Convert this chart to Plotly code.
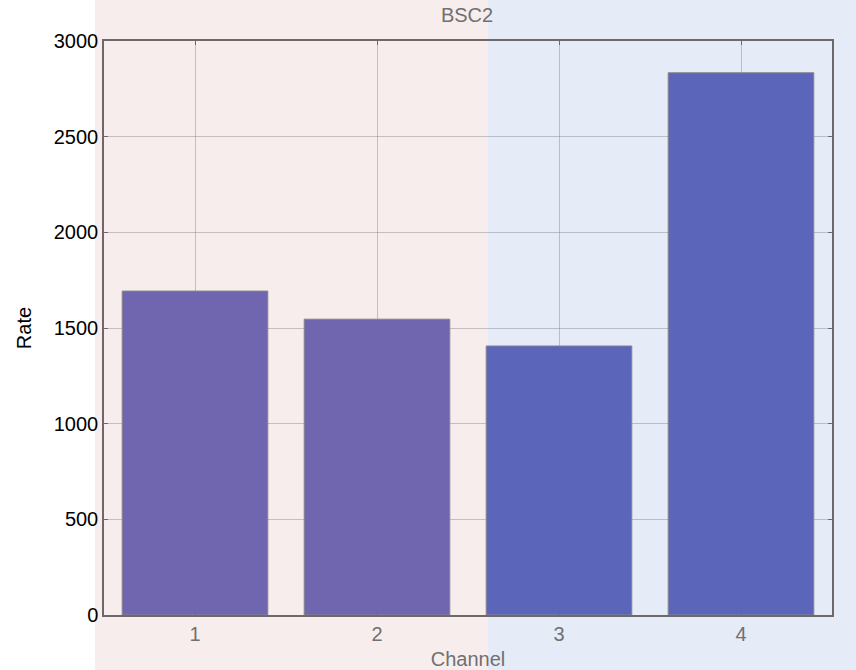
import plotly.graph_objects as go

channels = [1, 2, 3, 4]
rates = [1693, 1546, 1406, 2834]
bar_colors = ["#7066B0", "#7066B0", "#5B66BB", "#5B66BB"]
y_ticks = [0, 500, 1000, 1500, 2000, 2500, 3000]

W, H = 856, 670
ml, mr, mt, mb = 104, 24, 41, 55
pw, ph = W - ml - mr, H - mt - mb

def px_x(px):
    return (px - ml) / pw

def px_y(py):
    return (H - mb - py) / ph

fig = go.Figure()
fig.add_trace(go.Bar(
    x=channels, y=rates, width=0.8,
    marker=dict(color=bar_colors, line=dict(color="#85858a", width=1)),
))

fig.add_shape(type="rect", xref="paper", yref="paper", layer="below",
              x0=px_x(95), x1=px_x(488), y0=px_y(H), y1=px_y(0),
              fillcolor="#F7EDED", line=dict(width=0))
fig.add_shape(type="rect", xref="paper", yref="paper", layer="below",
              x0=px_x(488), x1=px_x(W), y0=px_y(H), y1=px_y(0),
              fillcolor="#E5EBF7", line=dict(width=0))

fig.update_layout(
    width=W, height=H,
    margin=dict(l=ml, r=mr, t=mt, b=mb, autoexpand=False),
    paper_bgcolor="white", plot_bgcolor="rgba(0,0,0,0)",
    font=dict(family="Liberation Sans, Arial", size=20),
    showlegend=False,
    title=dict(text="BSC2", x=467 / W, xanchor="center",
               y=1 - 15 / H, yanchor="middle",
               font=dict(size=20, color="#707070")),
    xaxis=dict(range=[0.5, 4.5], tickvals=channels, ticktext=[str(c) for c in channels],
               showgrid=True, gridcolor="rgba(120,120,130,0.4)", gridwidth=1,
               showline=True, linecolor="#6e6868", linewidth=1.5, mirror="ticks",
               ticks="inside", ticklen=4, tickcolor="#6e6868",
               tickfont=dict(color="#707070", size=20),
               title=dict(text="Channel", font=dict(color="#707070", size=20), standoff=9),
               zeroline=False, automargin=False),
    yaxis=dict(range=[0, 3000], tickvals=y_ticks,
               showgrid=True, gridcolor="rgba(120,120,130,0.4)", gridwidth=1,
               showline=True, linecolor="#6e6868", linewidth=1.5, mirror="ticks",
               ticks="inside", ticklen=4, tickcolor="#6e6868",
               tickfont=dict(color="black", size=20),
               title=dict(text="Rate", font=dict(color="black", size=20), standoff=17),
               zeroline=False, automargin=False),
)

fig.write_html("out.html", config={"displayModeBar": False},
               post_script="document.body.style.margin='0';document.body.style.overflow='hidden';")
